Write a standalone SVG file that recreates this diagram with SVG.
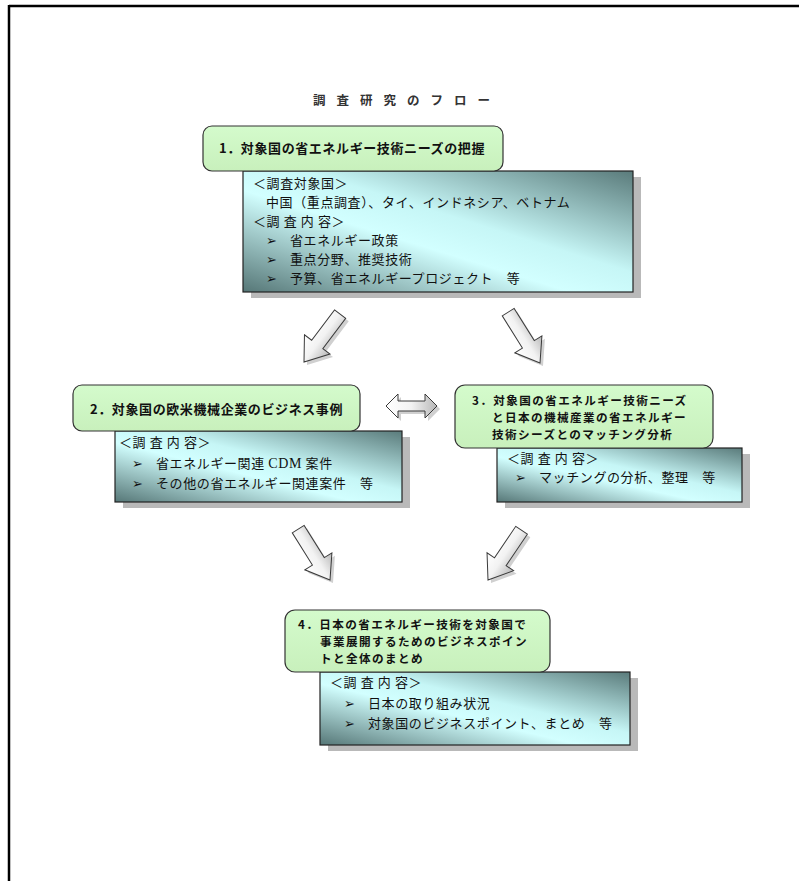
<svg xmlns="http://www.w3.org/2000/svg" width="799" height="881" viewBox="0 0 799 881">
<defs>
  <linearGradient id="blue" x1="1" y1="0" x2="0" y2="1">
    <stop offset="0" stop-color="#5a7b7b"/>
    <stop offset="0.42" stop-color="#c6f6f6"/>
    <stop offset="0.58" stop-color="#d2ffff"/>
    <stop offset="1" stop-color="#567777"/>
  </linearGradient>
  <linearGradient id="green" x1="0" y1="0" x2="0" y2="1">
    <stop offset="0" stop-color="#d4fbcc"/>
    <stop offset="1" stop-color="#c8f0bc"/>
  </linearGradient>
  <linearGradient id="arrowfill" x1="0" y1="0" x2="1" y2="0">
    <stop offset="0" stop-color="#ffffff"/>
    <stop offset="0.5" stop-color="#f2f2f2"/>
    <stop offset="1" stop-color="#b8b8b8"/>
  </linearGradient>
  <path id="barrow" d="M -7,-60 L 7,-60 L 7,-22 L 16,-22 L 0,0 L -16,-22 L -7,-22 Z"/>
</defs>
<style>
  .frame { stroke: #000; stroke-width: 2.5; fill: none; }
  .title { font-family: "Noto Sans CJK JP", "Noto Sans", sans-serif; font-size: 12.5px; font-weight: bold; fill: #333; letter-spacing: 11px; }
  .gbox { fill: url(#green); stroke: #333; stroke-width: 1.2; }
  .bbox { fill: url(#blue); stroke: #222; stroke-width: 1.2; }
  .shadow { fill: #b9b9b9; }
  .glabel { font-family: "Noto Sans CJK JP", "DejaVu Sans", sans-serif; font-size: 13px; font-weight: bold; fill: #111; letter-spacing: 0.6px; }
  .glabel2 { font-family: "Noto Sans CJK JP", "DejaVu Sans", sans-serif; font-size: 11.6px; font-weight: bold; fill: #111; letter-spacing: 1.4px; }
  .body { font-family: "Noto Sans CJK JP", "DejaVu Sans", sans-serif; font-size: 13px; fill: #111; letter-spacing: 0.6px; }
  .bul { font-family: "DejaVu Sans", "Noto Sans CJK JP", sans-serif; font-size: 13px; font-weight: bold; fill: #111; }
  .lat { font-family: "Liberation Serif", "Noto Sans CJK JP", serif; font-size: 14px; }
  .arrow { fill: url(#arrowfill); stroke: #3a3a3a; stroke-width: 1; stroke-linejoin: miter; }
  .ashadow { fill: #d0d0d0; }
</style>

<g id="frame">
  <line class="frame" x1="9" y1="6" x2="799" y2="6"/>
  <line class="frame" x1="9" y1="5" x2="9" y2="881"/>
</g>

<g id="title">
  <text class="title" x="313" y="105">調査研究のフロー</text>
</g>

<g id="node1">
  <rect class="shadow" x="251" y="177" width="390" height="121"/>
  <rect class="bbox" x="243" y="171" width="390" height="121"/>
  <rect class="gbox" x="203" y="126" width="300" height="45" rx="9"/>
  <text class="glabel" x="219" y="153">1．対象国の省エネルギー技術ニーズの把握</text>
  <text class="body" x="253" y="188">＜調査対象国＞</text>
  <text class="body" x="266" y="207">中国（重点調査）、タイ、インドネシア、ベトナム</text>
  <text class="body" x="253" y="226">＜調 査 内 容＞</text>
  <text class="bul" x="266" y="245">➢</text>
  <text class="body" x="290" y="245">省エネルギー政策</text>
  <text class="bul" x="266" y="264">➢</text>
  <text class="body" x="290" y="264">重点分野、推奨技術</text>
  <text class="bul" x="266" y="283">➢</text>
  <text class="body" x="290" y="283">予算、省エネルギープロジェクト　等</text>
</g>

<g id="node2">
  <rect class="shadow" x="123" y="437" width="287" height="71"/>
  <rect class="bbox" x="115" y="431" width="287" height="71"/>
  <rect class="gbox" x="73" y="385" width="287" height="46" rx="9"/>
  <text class="glabel" x="90" y="414">2．対象国の欧米機械企業のビジネス事例</text>
  <text class="body" x="119" y="447">＜調 査 内 容＞</text>
  <text class="bul" x="132" y="468">➢</text>
  <text class="body" x="156" y="468">省エネルギー関連 <tspan class="lat">CDM</tspan> 案件</text>
  <text class="bul" x="132" y="488">➢</text>
  <text class="body" x="156" y="488">その他の省エネルギー関連案件　等</text>
</g>

<g id="node3">
  <rect class="shadow" x="505" y="454" width="245" height="54"/>
  <rect class="bbox" x="497" y="448" width="245" height="54"/>
  <rect class="gbox" x="455" y="385" width="258" height="63" rx="10"/>
  <text class="glabel2" x="472" y="405">3．対象国の省エネルギー技術ニーズ</text>
  <text class="glabel2" x="492" y="422">と日本の機械産業の省エネルギー</text>
  <text class="glabel2" x="492" y="439">技術シーズとのマッチング分析</text>
  <text class="body" x="507" y="463">＜調 査 内 容＞</text>
  <text class="bul" x="515" y="482">➢</text>
  <text class="body" x="539" y="482">マッチングの分析、整理　等</text>
</g>

<g id="node4">
  <rect class="shadow" x="328" y="678" width="310" height="73"/>
  <rect class="bbox" x="320" y="672" width="310" height="73"/>
  <rect class="gbox" x="285" y="610" width="265" height="62" rx="10"/>
  <text class="glabel2" x="298" y="629">4．日本の省エネルギー技術を対象国で</text>
  <text class="glabel2" x="320" y="646">事業展開するためのビジネスポイン</text>
  <text class="glabel2" x="320" y="663">トと全体のまとめ</text>
  <text class="body" x="330" y="687">＜調 査 内 容＞</text>
  <text class="bul" x="344" y="708">➢</text>
  <text class="body" x="368" y="708">日本の取り組み状況</text>
  <text class="bul" x="344" y="728">➢</text>
  <text class="body" x="368" y="728">対象国のビジネスポイント、まとめ　等</text>
</g>

<g id="connectors">
  <use href="#barrow" class="ashadow" transform="translate(307,365) rotate(37)"/>
  <use href="#barrow" class="arrow" transform="translate(304,362) rotate(37)"/>
  <use href="#barrow" class="ashadow" transform="translate(543,366) rotate(-32)"/>
  <use href="#barrow" class="arrow" transform="translate(540,363) rotate(-32)"/>
  <use href="#barrow" class="ashadow" transform="translate(333,583) rotate(-32)"/>
  <use href="#barrow" class="arrow" transform="translate(330,580) rotate(-32)"/>
  <use href="#barrow" class="ashadow" transform="translate(491,583) rotate(34)"/>
  <use href="#barrow" class="arrow" transform="translate(488,580) rotate(34)"/>
  <path class="ashadow" d="M389,409 L401,397 L401,404 L428,404 L428,397 L440,409 L428,421 L428,414 L401,414 L401,421 Z"/>
  <path class="arrow" d="M386,406 L398,394 L398,401 L425,401 L425,394 L437,406 L425,418 L425,411 L398,411 L398,418 Z"/>
</g>
</svg>
